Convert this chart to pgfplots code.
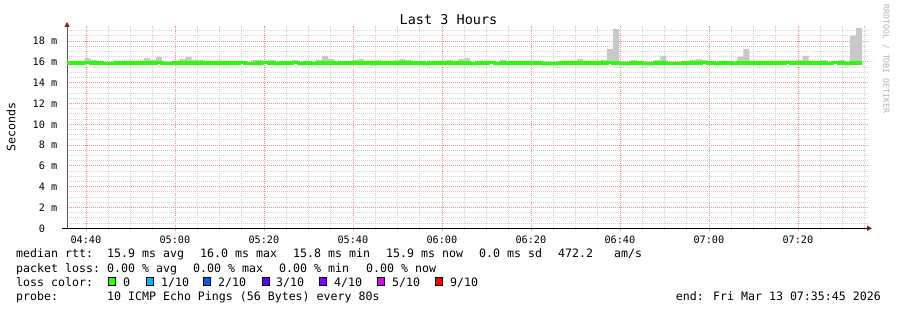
\documentclass[border=0pt]{standalone}
\usepackage{fontspec}
\setmainfont{DejaVu Sans Mono}
\usepackage{pgfplots}
\pgfplotsset{compat=1.18}
\usepackage{pgfplotstable}
\usepgfplotslibrary{fillbetween}
\usetikzlibrary{arrows.meta}

\definecolor{smoke}{HTML}{C8C8C8}
\definecolor{rttgreen}{HTML}{26FF00}
\definecolor{majgrid}{HTML}{F29090}
\definecolor{mingrid}{HTML}{D2D2D2}
\definecolor{axred}{HTML}{8B1A1A}
\definecolor{axgray}{HTML}{555555}
\definecolor{lc1}{HTML}{00B8FF}
\definecolor{lc2}{HTML}{0059FF}
\definecolor{lc3}{HTML}{5E00FF}
\definecolor{lc4}{HTML}{7E00FF}
\definecolor{lc5}{HTML}{DD00FF}
\definecolor{lc9}{HTML}{FF0000}
\definecolor{credit}{HTML}{B4B4B4}

% i = 80-second step index from 04:35:45
\pgfplotstableread{
i lo hi med
0 15.8 16.05 15.9
1 15.8 16.05 15.9
2 15.8 16.1 15.9
3 15.8 16.37 15.92
4 15.8 16.2 15.9
5 15.8 16.05 15.9
6 15.75 16.0 15.82
7 15.75 16.0 15.82
8 15.8 16.1 15.9
9 15.8 16.05 15.9
10 15.8 16.1 15.9
11 15.8 16.05 15.9
12 15.8 16.1 15.9
13 15.8 16.37 15.9
14 15.8 16.2 15.9
15 15.8 16.47 15.92
16 15.8 16.1 15.88
17 15.8 16.1 15.88
18 15.8 16.1 15.9
19 15.8 16.3 15.9
20 15.8 16.47 15.9
21 15.8 16.2 15.9
22 15.8 16.2 15.9
23 15.8 16.1 15.9
24 15.8 16.05 15.9
25 15.8 16.1 15.9
26 15.8 16.05 15.9
27 15.8 16.05 15.9
28 15.8 16.05 15.9
29 15.8 16.1 15.95
30 15.7 16.0 15.82
31 15.65 16.2 15.88
32 15.65 16.2 15.9
33 15.8 16.1 15.95
34 15.8 16.2 15.9
35 15.65 16.05 15.85
36 15.8 16.1 15.9
37 15.8 16.05 15.9
38 15.8 16.2 15.97
39 15.65 16.05 15.88
40 15.8 16.1 15.9
41 15.65 16.05 15.88
42 15.8 16.2 15.9
43 15.8 16.57 15.9
44 15.8 16.28 15.9
45 15.8 16.1 15.85
46 15.8 16.05 15.9
47 15.8 16.05 15.9
48 15.8 16.18 15.9
49 15.8 16.28 15.9
50 15.8 16.05 15.9
51 15.65 16.1 15.9
52 15.8 16.15 15.9
53 15.8 16.05 15.9
54 15.8 16.05 15.9
55 15.8 16.15 15.9
56 15.8 16.27 15.9
57 15.8 16.2 15.9
58 15.8 16.05 15.9
59 15.8 16.05 15.9
60 15.65 16.0 15.85
61 15.8 16.05 15.9
62 15.8 16.05 15.9
63 15.8 16.1 15.9
64 15.8 16.2 15.9
65 15.8 16.1 15.9
66 15.8 16.3 15.9
67 15.8 16.37 15.9
68 15.65 16.0 15.82
69 15.8 16.1 15.9
70 15.8 16.05 15.9
71 15.8 16.1 15.95
72 15.65 16.05 15.88
73 15.8 16.2 15.9
74 15.8 16.1 15.9
75 15.8 16.05 15.9
76 15.8 16.05 15.9
77 15.8 16.05 15.9
78 15.8 16.05 15.9
79 15.8 16.05 15.9
80 15.65 16.1 15.85
81 15.65 16.1 15.85
82 15.65 16.1 15.85
83 15.8 16.05 15.9
84 15.8 16.1 15.9
85 15.8 16.1 15.9
86 15.8 16.28 15.9
87 15.8 16.1 15.9
88 15.8 16.1 15.9
89 15.8 16.05 15.9
90 15.8 16.2 15.9
91 15.8 17.25 15.95
92 15.8 19.17 15.9
93 15.65 16.05 15.85
94 15.65 16.05 15.85
95 15.8 16.2 15.9
96 15.8 16.05 15.9
97 15.65 16.05 15.85
98 15.65 16.05 15.85
99 15.8 16.2 15.9
100 15.8 16.57 15.9
101 15.75 16.05 15.86
102 15.75 16.05 15.86
103 15.75 16.05 15.86
104 15.8 16.05 15.9
105 15.8 16.18 15.9
106 15.8 16.28 15.9
107 15.8 16.18 15.92
108 15.8 16.08 15.9
109 15.65 16.0 15.82
110 15.8 16.05 15.9
111 15.8 16.05 15.9
112 15.7 16.05 15.82
113 15.8 16.5 15.9
114 15.8 17.25 15.9
115 15.8 16.1 15.9
116 15.8 16.05 15.9
117 15.8 16.05 15.9
118 15.8 16.05 15.9
119 15.8 16.05 15.9
120 15.8 16.1 15.9
121 15.8 16.1 15.97
122 15.8 16.05 15.9
123 15.8 16.18 15.9
124 15.8 16.57 15.9
125 15.8 16.1 15.9
126 15.8 16.05 15.9
127 15.8 16.18 15.9
128 15.75 16.05 15.85
129 15.8 16.05 15.95
130 15.8 16.18 15.9
131 15.65 16.05 15.85
132 15.8 18.5 15.9
133 15.8 19.26 15.9
134 15.8 19.26 15.9
}\rtt

\newcommand{\LF}{\fontsize{11.6bp}{13bp}\selectfont}
\newcommand{\AF}{\fontsize{10.2bp}{12bp}\selectfont}

\begin{document}
\begin{tikzpicture}
\path (0bp,0bp) rectangle (897bp,310bp);
\begin{axis}[
  at={(67bp,81.7bp)}, anchor=south west,
  scale only axis, width=801bp, height=202.3bp,
  xmin=0, xmax=135, ymin=0, ymax=19.45,
  no markers,
  axis x line=bottom, axis y line=left,
  x axis line style={black, line width=0.9bp, shorten <=-5bp, shorten >=-4bp,
    -{Triangle[length=5bp,width=5bp,color=axred]}},
  y axis line style={axgray, line width=0.9bp, shorten >=-4bp,
    -{Triangle[length=5bp,width=5bp,color=axred]}},
  xtick={3.1875,18.1875,33.1875,48.1875,63.1875,78.1875,93.1875,108.1875,123.1875},
  xticklabels={04:40,05:00,05:20,05:40,06:00,06:20,06:40,07:00,07:20},
  minor xtick={6.9375,10.6875,14.4375,21.9375,25.6875,29.4375,36.9375,40.6875,44.4375,51.9375,55.6875,59.4375,66.9375,70.6875,74.4375,81.9375,85.6875,89.4375,96.9375,100.6875,104.4375,111.9375,115.6875,119.4375,126.9375,130.6875,134.4375},
  ytick={0,2,4,6,8,10,12,14,16,18},
  yticklabels={0\hphantom{\ m},2 m,4 m,6 m,8 m,10 m,12 m,14 m,16 m,18 m},
  minor ytick={0.5,1,1.5,2.5,3,3.5,4.5,5,5.5,6.5,7,7.5,8.5,9,9.5,10.5,11,11.5,12.5,13,13.5,14.5,15,15.5,16.5,17,17.5,18.5,19},
  grid=both,
  major grid style={majgrid, line width=0.8bp, dash pattern=on 1bp off 1bp},
  minor grid style={mingrid, line width=0.8bp, dash pattern=on 1bp off 1bp},
  tick align=outside,
  major tick length=2.5bp, minor tick length=2bp,
  major tick style={majgrid, line width=0.8bp},
  minor tick style={mingrid, line width=0.8bp},
  ytick style={draw=none},
  minor y tick style={draw=none},
  tick label style={font=\AF, inner sep=0pt},
  xticklabel style={anchor=base, yshift=-12.7bp},
  yticklabel style={anchor=east, xshift=-7bp},
]
\addplot[const plot, draw=none, name path=lo] table[x=i,y=lo]{\rtt};
\addplot[const plot, draw=none, name path=hi] table[x=i,y=hi]{\rtt};
\addplot[smoke, draw=none] fill between[of=hi and lo];
\addplot[const plot, rttgreen, line width=3.2bp] table[x=i,y=med]{\rtt};
\end{axis}

% title and axis titles
\node[font=\fontsize{13.5bp}{15bp}\selectfont, anchor=center] at (448.5bp,290.5bp) {Last 3 Hours};
\node[font=\LF, rotate=90, anchor=center] at (11bp,183bp) {Seconds};
\node[font=\fontsize{8.2bp}{9bp}\selectfont, text=credit, rotate=-90, anchor=center] at (886bp,251bp) {RRDTOOL / TOBI OETIKER};

% legend lines
\begin{scope}[every node/.style={font=\LF, anchor=base west, inner sep=0pt}]
\node at (16bp,52bp) {median rtt:};
\node at (107bp,52bp) {15.9 ms avg};
\node at (200bp,52bp) {16.0 ms max};
\node at (293bp,52bp) {15.8 ms min};
\node at (386bp,52bp) {15.9 ms now};
\node at (479bp,52bp) {0.0 ms sd};
\node at (558bp,52bp) {472.2};
\node at (614bp,52bp) {am/s};

\node at (16bp,38bp) {packet loss:};
\node at (107bp,38bp) {0.00 \% avg};
\node at (193bp,38bp) {0.00 \% max};
\node at (279bp,38bp) {0.00 \% min};
\node at (366bp,38bp) {0.00 \% now};

\node at (16bp,24bp) {loss color:};
\node at (123bp,24bp) {0};
\node at (161bp,24bp) {1/10};
\node at (218bp,24bp) {2/10};
\node at (276bp,24bp) {3/10};
\node at (334bp,24bp) {4/10};
\node at (392bp,24bp) {5/10};
\node at (450bp,24bp) {9/10};

\node at (16bp,10bp) {probe:};
\node at (107bp,10bp) {10 ICMP Echo Pings (56 Bytes) every 80s};
\node[anchor=base east] at (881bp,10bp) {end: Fri Mar 13 07:35:45 2026};
\end{scope}

\foreach \bx/\bc in {108/rttgreen,146/lc1,203/lc2,262/lc3,319/lc4,377/lc5,435/lc9}{
  \draw[fill=\bc, draw=black, line width=0.8bp] (\bx bp+0.4bp,24.2bp) rectangle (\bx bp+7.6bp,32.3bp);
}
\end{tikzpicture}
\end{document}
